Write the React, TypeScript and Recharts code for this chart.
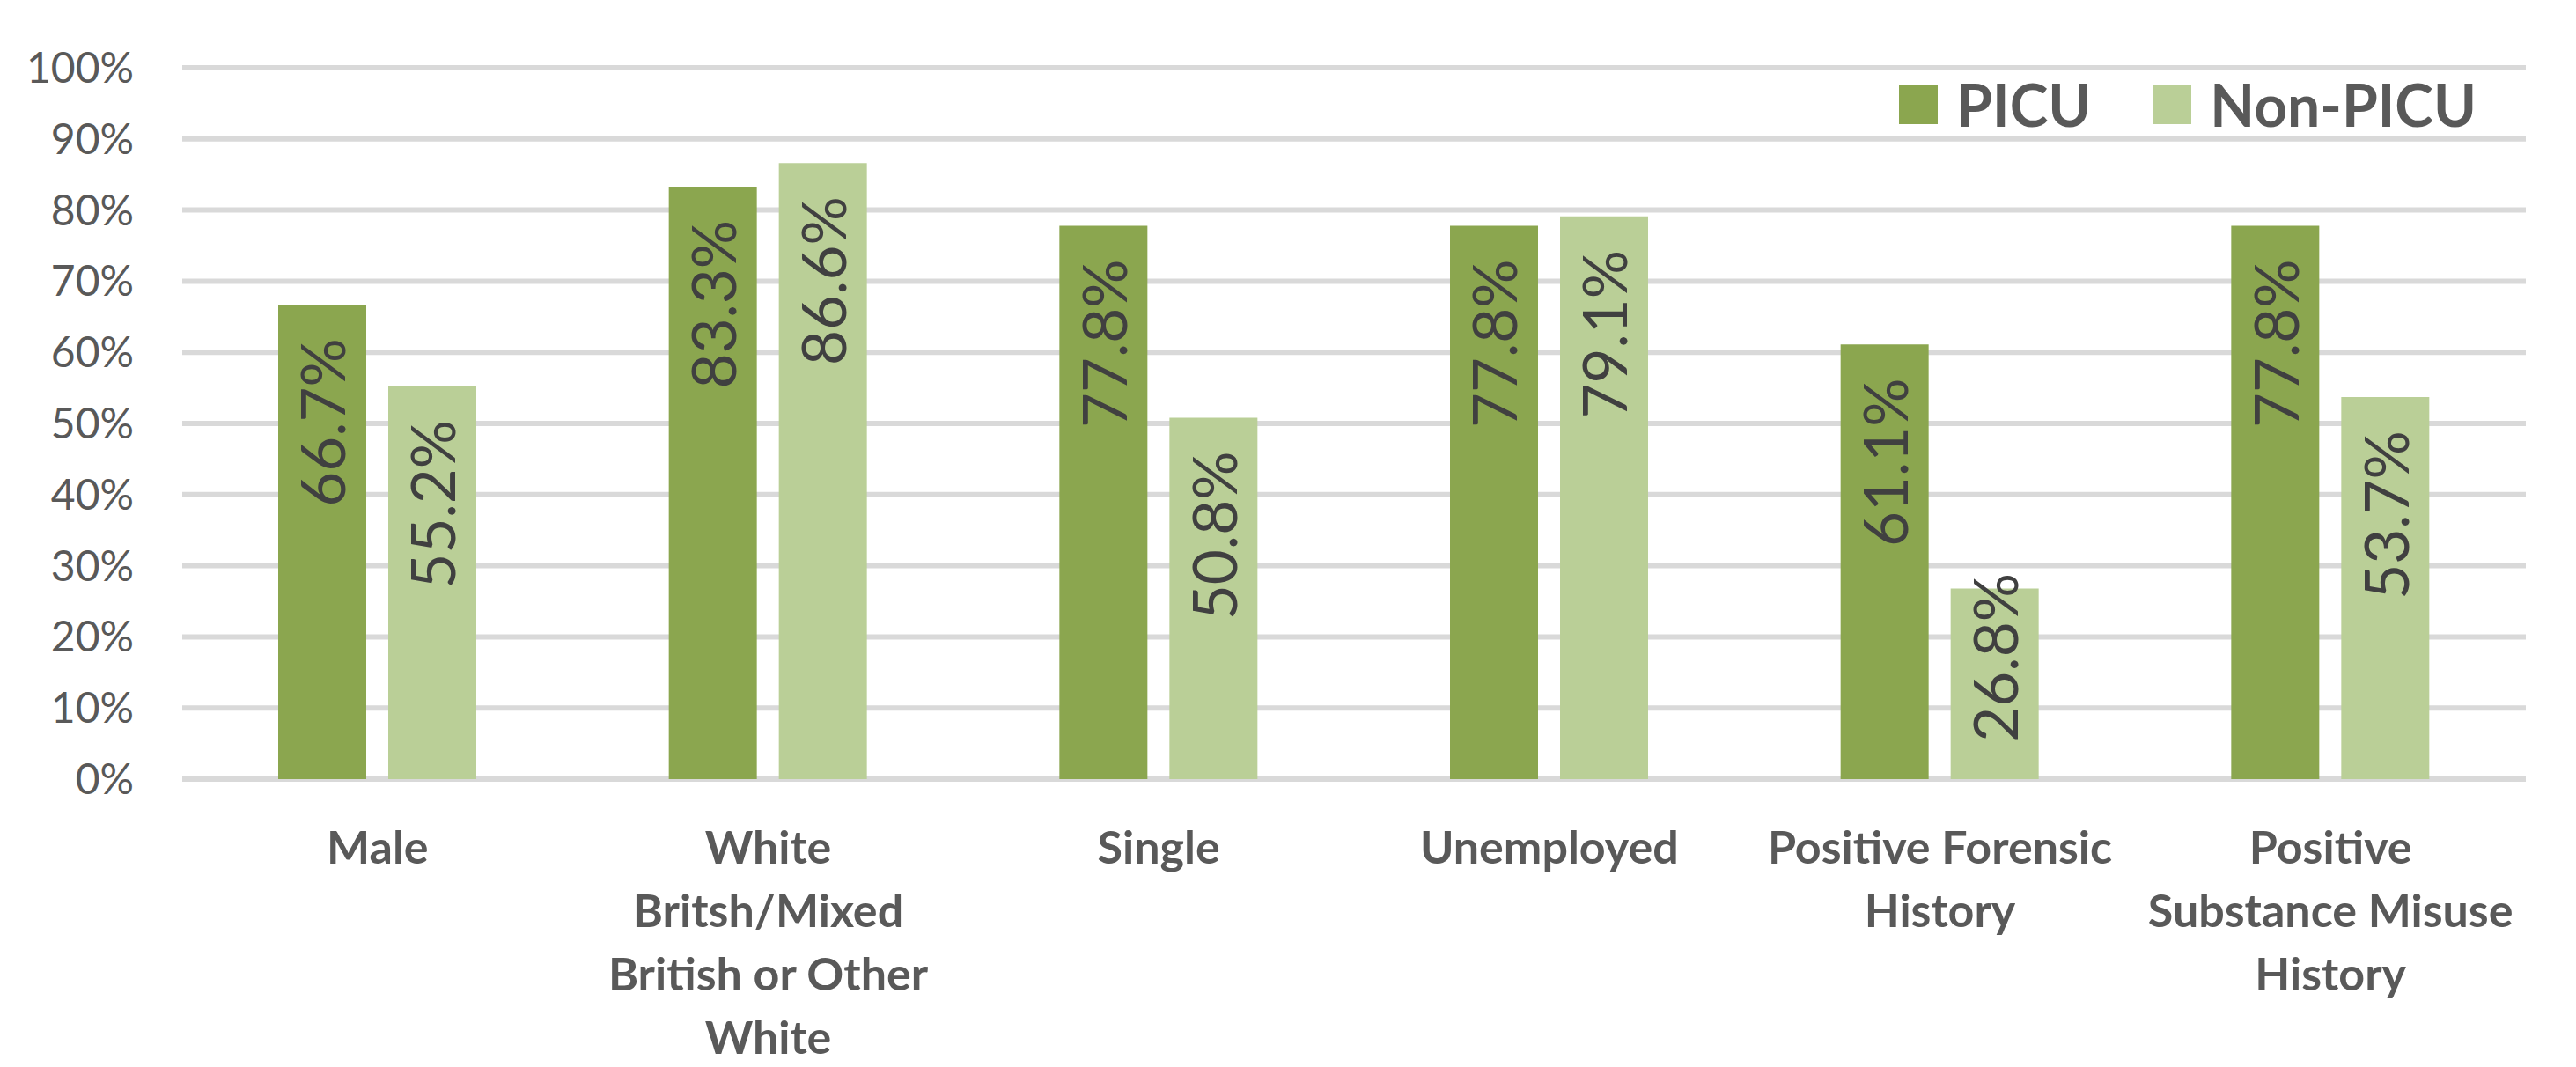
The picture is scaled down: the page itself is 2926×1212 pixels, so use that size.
import { Bar, BarChart, CartesianGrid, LabelList, Legend, XAxis, YAxis } from 'recharts'

const categories = [
  'Male',
  'White\nBritsh/Mixed\nBritish or Other\nWhite',
  'Single',
  'Unemployed',
  'Positive Forensic\nHistory',
  'Positive\nSubstance Misuse\nHistory',
]
const picuValues = [66.7, 83.3, 77.8, 77.8, 61.1, 77.8]
const nonPicuValues = [55.2, 86.6, 50.8, 79.1, 26.8, 53.7]
const yTicks = [0, 10, 20, 30, 40, 50, 60, 70, 80, 90, 100]
const seriesNames = ['PICU', 'Non-PICU']
const seriesColors = ['#8BA64F', '#BACF97']

const FONT = 'Lato, "Open Sans", sans-serif'
const LABEL_LEN = 197

const data = categories.map((name, i) => ({
  name,
  picu: picuValues[i],
  nonPicu: nonPicuValues[i],
}))

function CategoryTick({ x, y, payload }: any) {
  const lines = String(payload.value).split('\n')
  return (
    <text
      x={x}
      y={y}
      textAnchor="middle"
      dominantBaseline="central"
      fill="#595959"
      fontSize={52}
      fontWeight={700}
      fontFamily={FONT}
    >
      {lines.map((line, i) => (
        <tspan key={i} x={x} y={y + 76 + i * 72}>
          {line}
        </tspan>
      ))}
    </text>
  )
}

function ValueLabel(props: any) {
  const { x, y, width, height, value } = props
  const cx = x + width / 2
  const top = Math.min(y + 38, y + height - 37 - LABEL_LEN)
  return (
    <text
      x={cx}
      y={top}
      transform={`rotate(-90, ${cx}, ${top})`}
      textAnchor="end"
      dominantBaseline="central"
      fill="#404040"
      fontSize={69}
      fontFamily={FONT}
    >
      {Number(value).toFixed(1)}%
    </text>
  )
}

function LegendBox() {
  return (
    <div style={{ display: 'flex', alignItems: 'center', fontFamily: FONT }}>
      {seriesNames.map((n, i) => (
        <div key={n} style={{ display: 'flex', alignItems: 'center', marginLeft: i ? 70 : 0 }}>
          <span style={{ width: 44, height: 44, background: seriesColors[i], marginRight: 21 }} />
          <span style={{ fontSize: 66, fontWeight: 700, color: '#595959', lineHeight: 1 }}>{n}</span>
        </div>
      ))}
    </div>
  )
}

export default function App() {
  return (
    <div style={{ position: 'absolute', left: 0, top: 0, background: '#fff' }}>
      <BarChart
        width={2926}
        height={1212}
        data={data}
        margin={{ top: 77, right: 57, left: 0, bottom: 0 }}
        barGap={25}
      >
        <CartesianGrid vertical={false} stroke="#D9D9D9" strokeWidth={6} />
        <XAxis
          dataKey="name"
          axisLine={false}
          tickLine={false}
          tickSize={0}
          tickMargin={0}
          interval={0}
          height={327}
          tick={<CategoryTick />}
        />
        <YAxis
          domain={[0, 100]}
          ticks={yTicks}
          axisLine={false}
          tickLine={false}
          tickSize={0}
          tickMargin={55}
          width={207}
          tickFormatter={(v) => `${v}%`}
          tick={{ fill: '#595959', fontSize: 48, fontFamily: FONT }}
        />
        <Legend
          layout="horizontal"
          verticalAlign="middle"
          align="center"
          content={() => <LegendBox />}
          wrapperStyle={{ top: 86, right: 113, left: 'auto', bottom: 'auto', width: 'auto' }}
        />
        <Bar dataKey="picu" name={seriesNames[0]} fill={seriesColors[0]} barSize={100} isAnimationActive={false}>
          <LabelList dataKey="picu" content={<ValueLabel />} />
        </Bar>
        <Bar dataKey="nonPicu" name={seriesNames[1]} fill={seriesColors[1]} barSize={100} isAnimationActive={false}>
          <LabelList dataKey="nonPicu" content={<ValueLabel />} />
        </Bar>
      </BarChart>
    </div>
  )
}
